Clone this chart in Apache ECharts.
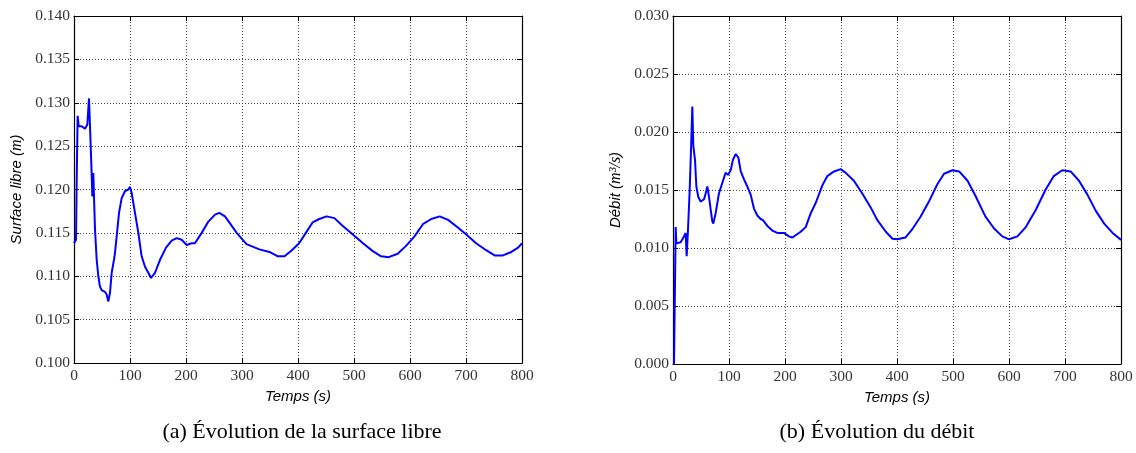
<!DOCTYPE html>
<html><head><meta charset="utf-8">
<script src="https://cdn.jsdelivr.net/npm/echarts@6/dist/echarts.min.js"></script>
<style>html,body{margin:0;padding:0;background:#fff}#c{width:1136px;height:453px}</style>
</head><body><div id="c"></div>
<script>
// Surface libre (m) vs time (s)
var timeA = [0,3.6,4.8,6.5,8.3,13.7,19.6,23.8,26.8,28.6,31.5,32.7,34.5,35.7,37.5,40.5,43.5,46.4,49.4,55.4,58.3,61.3,64.3,67.3,71.4,73.2,76.2,80.4,85.1,91,97,100,103,108.9,114.9,120.8,126.8,132.7,137.5,144.6,153.6,164.3,174.4,183.3,192.3,201.2,210,216,228,240,251.8,259.5,269.6,278.6,290.5,308,331,349,364,376,387.5,402,414,426,438,451,465,480,498,516,533.6,548.5,562,578,593,608,623,638,653,668,686,700.5,718,736,751,766,781,793,800];
var surface = [0.1138,0.1142,0.1211,0.1285,0.1273,0.1273,0.1270,0.1275,0.1305,0.1273,0.1219,0.1192,0.1219,0.1192,0.1154,0.1119,0.1100,0.1088,0.1084,0.1082,0.1079,0.1071,0.1081,0.1104,0.1119,0.1127,0.1146,0.1173,0.1190,0.1198,0.1200,0.1203,0.1196,0.1173,0.1150,0.1123,0.1111,0.1104,0.1098,0.1104,0.1119,0.1133,0.1141,0.1144,0.1142,0.1136,0.1138,0.1138,0.1150,0.1163,0.1171,0.1173,0.1169,0.1161,0.1150,0.1137,0.1131,0.1128,0.1123,0.1123,0.1129,0.1138,0.1150,0.1162,0.1166,0.1169,0.1167,0.1158,0.1148,0.1138,0.1129,0.1123,0.1122,0.1126,0.1135,0.1146,0.1160,0.1166,0.1169,0.1165,0.1156,0.1148,0.1138,0.1130,0.1124,0.1124,0.1128,0.1133,0.1138];
// Débit (m3/s) vs time (s)
var timeB = [1.8,4.8,6,9.5,13.7,19.6,22.6,24.4,26.8,29.8,32.7,34.5,36.3,39.3,41.7,45.2,49.4,55.4,58.3,61.3,64.3,67.3,70.2,72,76.2,82,88,94,98,103,107,112,116.7,121,127,132.7,138.7,144.6,150.6,156.5,160.7,168.5,177.4,186.3,198,207,213,219,228,237,246,255,266.7,275.6,287.5,299.4,308,323,338,353,365,380,392,400.6,415,427,442,457,472,484,499,511,526,540,558,573,588,600,615,630,648,665,680,695,710,725,740,755,770,785,800];
var debit = [0.0,0.0118,0.0104,0.0103,0.0105,0.0110,0.0113,0.0093,0.0116,0.0150,0.0193,0.0222,0.0188,0.0176,0.0153,0.0144,0.0140,0.0142,0.0147,0.0153,0.0144,0.0133,0.0123,0.0121,0.0130,0.0147,0.0156,0.0165,0.0163,0.0167,0.0176,0.0181,0.0178,0.0166,0.0159,0.0153,0.0146,0.0134,0.0128,0.0125,0.0124,0.0119,0.0115,0.0113,0.0113,0.0110,0.0109,0.0111,0.0114,0.0118,0.0130,0.0139,0.0154,0.0162,0.0166,0.0168,0.0165,0.0158,0.0147,0.0135,0.0124,0.0114,0.0108,0.01075,0.0109,0.0116,0.0127,0.0140,0.0155,0.0164,0.0167,0.0166,0.0158,0.0145,0.0127,0.0117,0.0110,0.01075,0.0110,0.0118,0.0133,0.0150,0.0162,0.0167,0.0166,0.0158,0.0146,0.0132,0.0121,0.0113,0.0107];
var xTicks = {min:0, max:800, interval:100};
var yTicksA = {min:0.100, max:0.140, interval:0.005};
var yTicksB = {min:0.000, max:0.030, interval:0.005};
var captionA = '(a) Évolution de la surface libre';
var captionB = '(b) Évolution du débit';

function pairs(xs, ys){ return xs.map(function(x,i){return [x, ys[i]];}); }

var tickFont = {fontFamily:'Liberation Serif', fontSize:15.5, color:'#333'};
var nameFont = {fontFamily:'Liberation Sans', fontStyle:'italic', fontSize:15, color:'#000',
  rich:{m:{fontFamily:'Liberation Serif', fontStyle:'italic', fontSize:16, color:'#000'}}};
var split = {show:true, lineStyle:{color:'#444', width:1, type:[1,2]}};
var line = {show:true, onZero:false, lineStyle:{color:'#000', width:1.2}};
var tick = {show:true, inside:true, length:5, lineStyle:{color:'#000'}};

function xAx(gi, main){
  return {type:'value', gridIndex:gi, min:xTicks.min, max:xTicks.max, interval:xTicks.interval,
    position: main?'bottom':'top',
    name: main?'Temps (s)':'', nameLocation:'middle', nameGap:22, nameTextStyle:nameFont,
    axisLine:line, axisTick:tick,
    axisLabel: main?Object.assign({margin:5, formatter:function(v){return String(v);}}, tickFont):{show:false},
    splitLine: main?split:{show:false}};
}
function yAx(gi, main, t, name){
  return {type:'value', gridIndex:gi, min:t.min, max:t.max, interval:t.interval,
    position: main?'left':'right',
    name: main?name:'', nameLocation:'middle', nameGap:49, nameTextStyle:nameFont,
    axisLine:line, axisTick:tick,
    axisLabel: main?Object.assign({margin:4, formatter:function(v){return v.toFixed(3);}}, tickFont):{show:false},
    splitLine: main?split:{show:false}};
}

var chart = echarts.init(document.getElementById('c'), null, {renderer:'canvas'});
chart.setOption({
  animation:false,
  backgroundColor:'#fff',
  grid:[{left:74, top:16, width:448, height:347},{left:673, top:16, width:448, height:348}],
  xAxis:[xAx(0,true), xAx(0,false), xAx(1,true), xAx(1,false)],
  yAxis:[yAx(0,true,yTicksA,'Surface libre ({m|m})'), yAx(0,false,yTicksA,''),
         yAx(1,true,yTicksB,'Débit ({m|m³/s})'), yAx(1,false,yTicksB,'')],
  series:[
    {type:'line', xAxisIndex:0, yAxisIndex:0, data:pairs(timeA, surface), showSymbol:false,
     lineStyle:{color:'#0000ff', width:2}, itemStyle:{color:'#0000ff'}},
    {type:'line', xAxisIndex:2, yAxisIndex:2, data:pairs(timeB, debit), showSymbol:false,
     lineStyle:{color:'#0000ff', width:2}, itemStyle:{color:'#0000ff'}}
  ],
  graphic:[
    {type:'text', x:302, y:432, style:{text:captionA, fontFamily:'Liberation Serif', fontSize:22, fill:'#000', textAlign:'center', textVerticalAlign:'middle'}},
    {type:'text', x:877, y:432, style:{text:captionB, fontFamily:'Liberation Serif', fontSize:22, fill:'#000', textAlign:'center', textVerticalAlign:'middle'}}
  ]
});
</script></body></html>
